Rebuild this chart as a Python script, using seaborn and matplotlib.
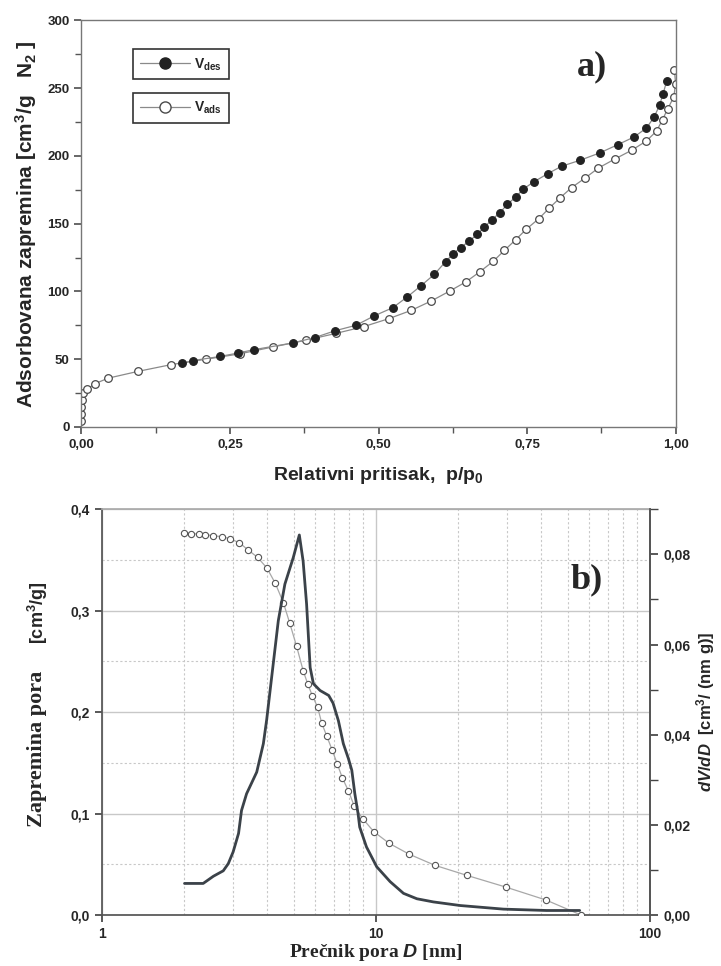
import matplotlib
matplotlib.use("Agg")
import matplotlib.pyplot as plt
import seaborn as sns
from matplotlib.ticker import MultipleLocator, FuncFormatter, LogLocator, NullFormatter
from matplotlib.lines import Line2D

sns.set_theme(style="ticks")
plt.rcParams.update({
    'font.family': ['Liberation Sans', 'DejaVu Sans'],
    'font.weight': 'bold',
    'mathtext.fontset': 'custom',
    'mathtext.rm': 'Liberation Sans:bold',
    'mathtext.it': 'Liberation Sans:bold:italic',
    'mathtext.bf': 'Liberation Sans:bold',
})

# --- a) N2 isotherm ---
ads_p = [0.0, 0.0, 0.0, 0.001, 0.003, 0.010, 0.023, 0.045, 0.095, 0.151, 0.210, 0.267,
         0.322, 0.378, 0.428, 0.475, 0.518, 0.555, 0.589, 0.620, 0.647, 0.670, 0.693,
         0.712, 0.731, 0.749, 0.770, 0.787, 0.806, 0.825, 0.848, 0.870, 0.898, 0.926,
         0.951, 0.968, 0.978, 0.987, 0.997, 1.0, 0.998]
ads_v = [4.4, 9.8, 14.5, 19.7, 25.0, 28.0, 32.0, 36.0, 41.0, 46.0, 50.0, 54.0,
         59.0, 64.0, 69.0, 74.0, 80.0, 86.0, 93.0, 100.3, 107.0, 114.3, 122.2,
         130.3, 138.2, 146.0, 153.7, 161.3, 169.2, 176.6, 183.7, 191.0, 197.7, 204.1,
         211.0, 218.3, 226.7, 234.9, 243.4, 253.3, 263.6]

des_p = [0.170, 0.188, 0.233, 0.263, 0.290, 0.356, 0.393, 0.427, 0.462, 0.493, 0.524,
         0.548, 0.571, 0.594, 0.613, 0.625, 0.638, 0.653, 0.666, 0.678, 0.691, 0.704,
         0.717, 0.731, 0.744, 0.761, 0.785, 0.808, 0.839, 0.872, 0.903, 0.930, 0.951,
         0.964, 0.973, 0.979, 0.985]
des_v = [47.0, 49.0, 52.0, 54.5, 57.0, 62.0, 66.0, 71.0, 75.0, 82.0, 88.0,
         95.8, 104.0, 112.6, 122.0, 127.4, 132.3, 137.2, 142.1, 147.3, 153.0, 157.9,
         164.3, 169.7, 175.6, 180.7, 186.9, 192.3, 196.7, 202.1, 208.3, 213.9, 220.5,
         228.7, 237.3, 245.9, 255.0]

# --- b) pore size distribution ---
cum_d = [2.00, 2.12, 2.25, 2.38, 2.54, 2.73, 2.93, 3.17, 3.41, 3.70, 4.00, 4.29, 4.59,
         4.84, 5.13, 5.42, 5.63, 5.86, 6.12, 6.34, 6.62, 6.91, 7.22, 7.54, 7.93, 8.34,
         8.94, 9.83, 11.18, 13.2, 16.4, 21.5, 29.7, 41.7, 56.0]
cum_v = [0.377, 0.376, 0.3756, 0.375, 0.374, 0.373, 0.371, 0.367, 0.360, 0.3525, 0.342,
         0.327, 0.308, 0.288, 0.265, 0.241, 0.228, 0.216, 0.205, 0.189, 0.176, 0.163,
         0.149, 0.135, 0.1225, 0.107, 0.095, 0.082, 0.0706, 0.060, 0.049, 0.039, 0.0276,
         0.0148, 0.0]

dvdd_d = [2.0, 2.34, 2.55, 2.77, 2.89, 3.01, 3.15, 3.23, 3.37, 3.67, 3.88, 3.99, 4.16,
          4.40, 4.65, 4.99, 5.25, 5.42, 5.58, 5.75, 5.91, 6.25, 6.72, 6.97, 7.29, 7.60,
          7.93, 8.16, 8.37, 8.60, 8.72, 9.23, 10.06, 11.26, 12.6, 14.1, 16.2, 20.3,
          29.2, 41.9, 55.4]
dvdd_v = [0.0070, 0.0070, 0.0086, 0.0098, 0.0114, 0.0140, 0.0181, 0.0232, 0.0269, 0.0317,
          0.0380, 0.0433, 0.0527, 0.0653, 0.0734, 0.0793, 0.0843, 0.0785, 0.0690, 0.0549,
          0.0513, 0.0498, 0.0487, 0.0470, 0.0431, 0.0380, 0.0347, 0.0321, 0.0269, 0.0225,
          0.0195, 0.0151, 0.0107, 0.0074, 0.0048, 0.0036, 0.0029, 0.0021, 0.0013, 0.0010,
          0.0010]


def comma(fmt):
    return FuncFormatter(lambda v, pos: (fmt % v).replace('.', ','))


fig = plt.figure(figsize=(7.21, 9.66), dpi=100)
ax1 = fig.add_axes([0.113, 0.558, 0.824, 0.421])
ax2 = fig.add_axes([0.1415, 0.0528, 0.760, 0.420])

# ---------- top panel ----------
line_col = "#8a8a8a"
sns.lineplot(x=ads_p, y=ads_v, ax=ax1, estimator=None, sort=False, color=line_col,
             lw=0.9, marker='o', markersize=5.5, markerfacecolor='white',
             markeredgecolor='#4a4a4a', markeredgewidth=0.9, zorder=2)
sns.lineplot(x=des_p, y=des_v, ax=ax1, estimator=None, sort=False, color=line_col,
             lw=0.9, marker='o', markersize=5.5, markerfacecolor='#222222',
             markeredgecolor='#222222', markeredgewidth=0.9, zorder=3)

ax1.set_xlim(0, 1)
ax1.set_ylim(0, 300)
ax1.xaxis.set_major_locator(MultipleLocator(0.25))
ax1.xaxis.set_minor_locator(MultipleLocator(0.125))
ax1.yaxis.set_major_locator(MultipleLocator(50))
ax1.yaxis.set_minor_locator(MultipleLocator(25))
ax1.xaxis.set_major_formatter(comma('%.2f'))
ax1.yaxis.set_major_formatter(FuncFormatter(lambda v, p: '%d' % v))
ax1.tick_params(which='both', direction='out', color='#555555', labelsize=9.5)
ax1.tick_params(which='major', length=5)
ax1.tick_params(which='minor', length=4)
for s in ax1.spines.values():
    s.set_color('#777777')
    s.set_linewidth(1.0)
for lab in ax1.get_xticklabels() + ax1.get_yticklabels():
    lab.set_fontweight('bold')
ax1.set_xlabel("Relativni pritisak,  p/p$_0$", fontsize=14, fontweight='bold', labelpad=10)
ax1.set_ylabel("Adsorbovana zapremina [cm$^3$/g   N$_2$ ]", fontsize=15,
               fontweight='bold', labelpad=6)

h_des = Line2D([], [], color=line_col, lw=0.9, marker='o', markersize=8,
               markerfacecolor='#222222', markeredgecolor='#222222')
h_ads = Line2D([], [], color=line_col, lw=0.9, marker='o', markersize=8,
               markerfacecolor='white', markeredgecolor='#4a4a4a')
leg_kw = dict(loc='upper left', borderaxespad=0, fancybox=False, framealpha=1,
              edgecolor='#333333', handlelength=3.6, fontsize=10, borderpad=0.5,
              handletextpad=0.3)
leg1 = ax1.legend([h_des], ["V$_{\\mathrm{des}}$"], bbox_to_anchor=(0.087, 0.929), **leg_kw)
leg1.get_frame().set_linewidth(1.2)
ax1.add_artist(leg1)
leg2 = ax1.legend([h_ads], ["V$_{\\mathrm{ads}}$"], bbox_to_anchor=(0.087, 0.821), **leg_kw)
leg2.get_frame().set_linewidth(1.2)

ax1.text(0.86, 0.885, "a)", transform=ax1.transAxes, ha='center', va='center',
         fontsize=26, fontweight='bold', family='Liberation Serif')

# ---------- bottom panel ----------
ax2.set_xscale('log')
ax2.set_xlim(1, 100)
ax2.set_ylim(0, 0.4)
ax2.yaxis.set_major_locator(MultipleLocator(0.1))
ax2.yaxis.set_minor_locator(MultipleLocator(0.05))
ax2.xaxis.set_major_locator(LogLocator(base=10))
ax2.xaxis.set_minor_locator(LogLocator(base=10, subs=range(2, 10)))
ax2.xaxis.set_minor_formatter(NullFormatter())
ax2.xaxis.set_major_formatter(FuncFormatter(lambda v, p: '%d' % v))
ax2.yaxis.set_major_formatter(comma('%.1f'))
ax2.grid(which='major', color='#c8c8c8', lw=1.0, ls='-')
ax2.grid(which='minor', color='#c8c8c8', lw=0.8, ls=(0, (2, 2)))
ax2.set_axisbelow(True)
ax2.tick_params(which='both', direction='out', color='#444444', labelsize=10)
ax2.tick_params(which='major', length=5)
ax2.tick_params(which='minor', length=0)
for s in ax2.spines.values():
    s.set_color('#555555')
ax2.spines['top'].set_color('#aaaaaa')

sns.lineplot(x=cum_d, y=cum_v, ax=ax2, estimator=None, sort=False, color='#a8a8a8',
             lw=0.9, marker='o', markersize=4.5, markerfacecolor='white',
             markeredgecolor='#555555', markeredgewidth=0.8, zorder=3)

ax3 = ax2.twinx()
sns.lineplot(x=dvdd_d, y=dvdd_v, ax=ax3, estimator=None, sort=False, color='#3b4249',
             lw=2.0, zorder=2)
ax3.set_ylim(0, 0.09)
ax3.set_xlim(1, 100)
ax3.yaxis.set_major_locator(MultipleLocator(0.02))
ax3.yaxis.set_minor_locator(MultipleLocator(0.01))
ax3.yaxis.set_major_formatter(comma('%.2f'))
ax3.tick_params(which='both', direction='out', color='#444444', labelsize=10)
ax3.tick_params(which='major', length=6)
ax3.tick_params(which='minor', length=6)
for s in ax3.spines.values():
    s.set_visible(False)
ax3.spines['right'].set_visible(True)
ax3.spines['right'].set_color('#555555')

for lab in ax2.get_xticklabels() + ax2.get_yticklabels() + ax3.get_yticklabels():
    lab.set_fontweight('bold')

ax2.set_xlabel("Prečnik pora $D$ [nm]", fontsize=14, fontweight='bold',
               family='Liberation Serif', labelpad=1)
ax2.set_ylabel("")
ax3.set_ylabel("$dV/dD$  [cm$^3$/ (nm g)]", fontsize=12, fontweight='bold', labelpad=3)

# left label: serif words plus sans unit, as in the original
fig.text(0.052, 0.2246, "Zapremina pora", rotation=90, ha='center', va='center',
         fontsize=16, fontweight='bold', family='Liberation Serif')
fig.text(0.052, 0.3654, "[cm$^3$/g]", rotation=90, ha='center', va='center',
         fontsize=13, fontweight='bold')

ax2.text(0.885, 0.825, "b)", transform=ax2.transAxes, ha='center', va='center',
         fontsize=26, fontweight='bold', family='Liberation Serif')

fig.savefig("out.png", dpi=100)
